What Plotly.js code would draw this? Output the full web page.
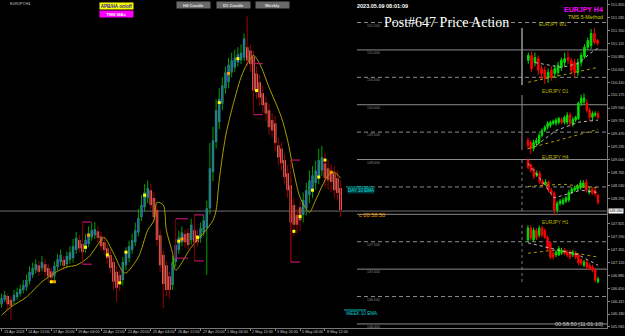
<!DOCTYPE html>
<html><head><meta charset="utf-8">
<script src="https://cdn.plot.ly/plotly-3.0.1.min.js"></script>
<style>html,body{margin:0;padding:0;background:#000;}#chart{width:625px;height:336px;}</style>
</head><body><div id="chart"></div>
<script>
// ---------- main EURJPY H4 (Heiken Ashi) ----------
const tickIdx = [0,8,16,24,32,40,48,56,64,72,80,88,96,104];
const tickText = ["13 Apr 2023","14 Apr 12:00","17 Apr 20:00","19 Apr 04:00","20 Apr 12:00","21 Apr 20:00","25 Apr 04:00","26 Apr 12:00","27 Apr 20:00","1 May 04:00","2 May 12:00","3 May 20:00","5 May 04:00","8 May 12:00"];
const haOpen = [146.36,146.44,146.51,146.44,146.42,146.49,146.55,146.62,146.67,146.78,
146.89,146.98,147.07,147.02,147.09,147.02,146.96,146.87,147.04,147.13,
147.17,147.09,147.17,147.20,147.35,147.53,147.46,147.37,147.46,147.58,
147.62,147.69,147.60,147.49,147.38,147.26,147.13,146.95,146.89,146.80,
147.07,147.20,147.35,147.49,147.67,147.95,148.13,148.30,148.44,148.30,
148.08,147.62,147.26,147.07,146.87,146.71,147.13,147.35,147.49,147.64,
147.66,147.53,147.71,147.62,147.57,147.67,147.75,148.11,148.77,149.32,
149.68,150.02,150.30,150.41,150.59,150.68,150.77,150.81,150.86,151.05,
150.99,150.88,150.57,150.41,150.21,150.04,149.90,149.72,149.66,149.26,
149.20,148.99,148.75,148.53,148.17,147.99,148.13,147.99,148.11,148.35,
148.44,148.57,148.68,148.80,148.93,148.84,148.77,148.75,148.66,148.48];
const haClose = [146.47,146.53,146.36,146.33,146.53,146.58,146.64,146.71,146.80,146.95,
147.02,147.09,146.95,147.13,146.95,146.87,146.84,147.06,147.18,147.26,
147.06,147.24,147.31,147.42,147.57,147.38,147.31,147.53,147.66,147.71,
147.73,147.57,147.42,147.35,147.20,147.02,146.77,146.66,146.73,147.13,
147.31,147.42,147.53,147.71,147.93,148.17,148.40,148.48,148.17,147.95,
147.53,147.07,146.73,146.62,146.62,147.13,147.44,147.58,147.67,147.49,
147.44,147.81,147.49,147.49,147.75,147.89,148.11,148.84,149.35,149.90,
150.11,150.35,150.59,150.73,150.81,150.86,150.92,150.95,151.21,150.81,
150.74,150.26,150.23,150.13,149.99,149.84,149.59,149.53,149.30,149.04,
148.93,148.68,148.44,147.85,147.81,147.81,147.89,148.26,148.44,148.62,
148.71,148.80,148.99,149.04,148.66,148.62,148.59,148.44,148.39,148.08];
const haHigh = [146.55,146.60,146.56,146.50,146.62,146.66,146.72,146.80,146.90,147.05,
147.12,147.18,147.15,147.24,147.18,147.10,147.02,147.14,147.28,147.36,
147.24,147.32,147.42,147.55,147.68,147.62,147.55,147.64,147.78,147.84,
147.86,147.78,147.68,147.58,147.46,147.35,147.20,147.05,146.98,147.22,
147.40,147.52,147.65,147.85,148.10,148.35,148.55,148.62,148.55,148.40,
148.15,147.72,147.35,147.15,146.95,147.25,147.55,147.70,147.78,147.72,
147.75,147.92,147.80,147.72,147.85,148.00,148.25,149.30,149.60,150.10,
150.30,150.50,150.70,150.85,150.95,151.00,151.05,151.10,151.30,151.61,
151.10,150.98,150.70,150.55,150.35,150.15,150.02,149.85,149.80,149.40,
149.32,149.10,148.90,148.65,148.30,148.10,148.25,148.40,148.58,148.80,
148.88,148.98,149.20,149.25,149.12,149.00,148.92,148.88,148.80,148.62];
const haLow = [146.30,146.40,146.25,146.07,146.36,146.44,146.50,146.56,146.60,146.72,
146.84,146.92,146.88,146.96,146.86,146.76,146.74,146.80,146.98,147.06,
146.98,147.02,147.10,147.12,147.28,147.30,147.22,147.30,147.40,147.52,
147.55,147.48,147.34,147.26,147.10,146.92,146.62,146.40,146.60,146.70,
146.98,147.12,147.28,147.42,147.60,147.88,148.05,148.20,148.10,147.85,
147.42,146.95,146.29,146.50,146.47,146.62,147.05,147.28,147.42,147.40,
147.36,147.45,147.40,147.42,147.48,147.60,146.90,148.00,148.60,149.20,
149.55,149.90,150.20,150.30,150.50,150.60,150.70,150.74,150.80,150.70,
150.60,150.05,150.10,149.98,149.85,149.70,149.45,149.40,149.15,148.90,
148.80,148.55,148.30,147.13,147.60,147.65,147.70,147.85,147.98,148.20,
148.30,148.45,148.55,148.70,148.50,148.45,148.40,148.30,148.25,147.95];
// smoothed moving average (read at selected bars)
const maIdx = [0,3,8,13,17,21,24,28,32,33,36,39,40,44,47,49,50,52,53,55,56,61,65,68,69,70,72,74,77,79,81,83,86,90,92,94,96,99,101,105,107,109];
const maVal = [146.16,146.31,146.49,146.77,146.93,147.04,147.07,147.22,147.53,147.58,147.29,146.95,146.93,147.22,147.71,147.89,148.22,148.17,147.71,147.29,146.98,147.40,147.66,147.89,148.08,148.62,149.41,149.90,150.50,150.75,150.90,150.75,150.32,149.77,149.35,148.77,148.31,148.04,148.26,148.71,148.77,148.66];
// signal dots
const yDotIdx = [16,27,34,38,40,46,57,63,70,76,82,94,96,100,102,104];
const yDotVal = [146.77,147.40,147.26,146.75,147.31,148.35,147.51,147.58,150.04,150.84,150.26,147.69,147.96,148.44,148.68,148.99];
const oDotIdx = [17,28,58,73,106];
const oDotVal = [146.77,147.62,147.55,150.57,148.77];
// TMS boxes
const boxStart = [26,56,62,81,93];
const boxEnd = [29,60,65,84,96];
const boxTop = [147.86,147.92,147.99,150.75,148.99];
const boxBottom = [147.09,147.20,147.15,149.82,147.13];
// round levels and price axis
const roundLevels = [146.0,146.5,147.0,147.5,148.0,148.5,149.0,149.5,150.0,150.5,151.0,151.5];
const hiddenLevelLabels = [148.0,148.5];
const priceTicks = [145.945,146.180,146.415,146.650,146.885,147.120,147.355,147.590,147.825,148.060,148.295,148.530,148.765,149.000,149.235,149.470,149.705,149.940,150.175,150.410,150.645,150.880,151.115,151.350,151.585,151.820];
const bidPrice = 148.06;
// ---------- mini charts ----------
const w1Open = [150.81,150.90,150.77,150.84,150.66,150.63,150.50,150.63,150.57,150.59,150.68,150.77,150.86,150.81,150.77,150.59,150.77,150.88,151.05,151.08,151.30,151.17];
const w1Close = [150.90,150.66,150.86,150.63,150.57,150.48,150.59,150.50,150.66,150.72,150.81,150.84,150.81,150.63,150.59,150.77,150.90,151.05,151.17,151.30,151.14,151.12];
const w1High = [150.95,150.97,150.95,150.90,150.72,150.70,150.66,150.70,150.72,150.78,150.86,150.95,150.97,150.86,150.84,150.84,150.95,151.10,151.22,151.38,151.40,151.20];
const w1Low = [150.75,150.60,150.70,150.55,150.45,150.38,150.40,150.44,150.50,150.52,150.62,150.70,150.74,150.55,150.50,150.52,150.70,150.84,151.00,151.02,151.10,151.08];
const w1FastIdx = [2,10,15,19,21], w1FastVal = [150.77,150.68,150.75,150.95,151.03];
const w1SlowIdx = [0,21], w1SlowVal = [150.41,150.68];
const d1Open = [149.35,149.31,149.20,149.30,149.31,149.44,149.53,149.59,149.62,149.66,149.66,149.68,149.73,149.68,149.68,149.81,149.64,149.72,149.75,150.03,150.05,150.03,149.90,149.77,149.81,149.84];
const d1Close = [149.26,149.20,149.31,149.35,149.44,149.53,149.59,149.66,149.68,149.70,149.72,149.75,149.68,149.77,149.81,149.66,149.73,149.77,150.03,150.12,150.12,149.90,149.77,149.84,149.84,149.77];
const d1High = [149.40,149.35,149.36,149.40,149.48,149.57,149.62,149.70,149.71,149.73,149.76,149.78,149.77,149.80,149.86,149.86,149.78,149.80,150.06,150.18,150.20,150.10,149.95,149.88,149.88,149.88];
const d1Low = [149.18,149.10,149.15,149.25,149.28,149.40,149.50,149.55,149.58,149.63,149.62,149.64,149.64,149.64,149.64,149.60,149.60,149.68,149.72,149.98,150.00,149.86,149.70,149.70,149.78,149.74];
const d1FastIdx = [3,10,18,25], d1FastVal = [149.26,149.53,149.68,149.72];
const d1SlowIdx = [0,25], d1SlowVal = [149.20,149.55];
const h4Open = [148.99,148.90,148.82,148.71,148.75,148.60,148.55,148.59,148.44,148.39,148.08,148.20,148.20,148.24,148.26,148.40,148.44,148.46,148.48,148.51,148.59,148.40,148.46,148.44,148.35];
const h4Close = [148.86,148.80,148.69,148.75,148.59,148.55,148.59,148.44,148.39,148.08,148.20,148.24,148.26,148.30,148.40,148.46,148.48,148.51,148.57,148.57,148.44,148.44,148.39,148.37,148.22];
const h4High = [149.02,148.94,148.86,148.80,148.79,148.64,148.64,148.62,148.48,148.42,148.24,148.28,148.30,148.33,148.44,148.50,148.52,148.55,148.62,148.62,148.64,148.48,148.50,148.48,148.38];
const h4Low = [148.82,148.76,148.64,148.68,148.55,148.50,148.52,148.40,148.34,147.98,148.03,148.16,148.17,148.20,148.22,148.37,148.41,148.43,148.45,148.48,148.40,148.36,148.35,148.33,148.18];
const h4FastIdx = [0,4,9,12,18,24], h4FastVal = [148.93,148.66,148.30,148.35,148.44,148.40];
const h4SlowIdx = [0,12,24], h4SlowVal = [148.51,148.55,148.48];
const h1Open = [147.53,147.75,147.53,147.71,147.62,147.75,147.71,147.58,147.48,147.29,147.26,147.26,147.29,147.35,147.31,147.31,147.26,147.29,147.26,147.17,147.07,147.13,147.07,147.04,146.98,146.77];
const h1Close = [147.75,147.57,147.71,147.57,147.75,147.62,147.58,147.38,147.22,147.22,147.31,147.38,147.35,147.29,147.26,147.22,147.31,147.22,147.11,147.11,147.13,147.04,147.02,146.98,146.80,146.82];
const h1High = [147.80,147.80,147.76,147.75,147.80,147.79,147.74,147.62,147.50,147.33,147.35,147.42,147.39,147.39,147.35,147.35,147.35,147.33,147.29,147.20,147.17,147.17,147.11,147.08,147.02,146.86];
const h1Low = [147.50,147.52,147.50,147.53,147.58,147.58,147.55,147.34,147.18,147.18,147.22,147.24,147.26,147.25,147.22,147.18,147.22,147.18,147.07,147.07,147.04,147.00,146.98,146.94,146.76,146.74];
const h1FastIdx = [0,10,18,25], h1FastVal = [147.48,147.35,147.26,147.07];
const h1SlowIdx = [0,10,25], h1SlowVal = [147.29,147.35,147.22];

// ---------- build ----------
const PW = 607, PH = 328;
const px = v => v / PW, py = v => 1 - v / PH;
const idx = haOpen.map((_, i) => i);
const up = idx.map(i => haClose[i] >= haOpen[i]);
const traces = [];
function wick(cond, color) {
  const xs = [], ys = [];
  idx.forEach(i => { if (up[i] === cond) { xs.push(i, i, null); ys.push(haLow[i], haHigh[i], null); } });
  return {type:'scatter', mode:'lines', x:xs, y:ys, line:{color, width:1}, hoverinfo:'skip', showlegend:false};
}
traces.push(wick(true, '#00a000'));
traces.push(wick(false, '#9a0000'));
traces.push({type:'bar', x:idx, base:idx.map(i => Math.min(haOpen[i], haClose[i])),
  y:idx.map(i => Math.abs(haClose[i] - haOpen[i])), width:0.8,
  marker:{color:idx.map(i => up[i] ? '#4169e1' : '#fa8072'), line:{width:0}}, hoverinfo:'skip', showlegend:false});
traces.push({type:'scatter', mode:'lines', x:maIdx, y:maVal, line:{color:'#a89f00', width:1, shape:'spline', smoothing:0.8}, hoverinfo:'skip', showlegend:false});
(function(){
  const hx = [], hy = [], vx = [], vy = [];
  boxStart.forEach((s, k) => {
    hx.push(s, boxEnd[k], null, s, boxEnd[k], null);
    hy.push(boxTop[k], boxTop[k], null, boxBottom[k], boxBottom[k], null);
    vx.push(s, s, null); vy.push(boxTop[k], boxBottom[k], null);
  });
  traces.push({type:'scatter', mode:'lines', x:vx, y:vy, line:{color:'#8b0000', width:1}, hoverinfo:'skip', showlegend:false});
  traces.push({type:'scatter', mode:'lines', x:hx, y:hy, line:{color:'#c0146e', width:1.2}, hoverinfo:'skip', showlegend:false});
})();
traces.push({type:'scatter', mode:'markers', x:yDotIdx, y:yDotVal, marker:{color:'#ffff00', size:3, symbol:'square'}, hoverinfo:'skip', showlegend:false});
traces.push({type:'scatter', mode:'markers', x:oDotIdx, y:oDotVal, marker:{color:'#ff9900', size:3, symbol:'square'}, hoverinfo:'skip', showlegend:false});

function mini(axis, o, h, l, c, fi, fv, si, sv) {
  traces.push({type:'scatter', mode:'lines', xaxis:axis, yaxis:'y', x:si, y:sv, line:{color:'#a89f00', width:1, dash:'dot'}, hoverinfo:'skip', showlegend:false});
  traces.push({type:'scatter', mode:'lines', xaxis:axis, yaxis:'y', x:fi, y:fv, line:{color:'#bdbdbd', width:1, dash:'dot'}, hoverinfo:'skip', showlegend:false});
  traces.push({type:'candlestick', xaxis:axis, yaxis:'y', x:o.map((_, i) => i), open:o, high:h, low:l, close:c,
    increasing:{line:{color:'#00e000', width:1}, fillcolor:'#00e000'},
    decreasing:{line:{color:'#ff0000', width:1}, fillcolor:'#ff0000'},
    whiskerwidth:0, hoverinfo:'skip', showlegend:false});
}
mini('x2', w1Open, w1High, w1Low, w1Close, w1FastIdx, w1FastVal, w1SlowIdx, w1SlowVal);
mini('x3', d1Open, d1High, d1Low, d1Close, d1FastIdx, d1FastVal, d1SlowIdx, d1SlowVal);
mini('x4', h4Open, h4High, h4Low, h4Close, h4FastIdx, h4FastVal, h4SlowIdx, h4SlowVal);
mini('x5', h1Open, h1High, h1Low, h1Close, h1FastIdx, h1FastVal, h1SlowIdx, h1SlowVal);

const F = 'Liberation Sans, Arial, sans-serif';
const shapes = [];
roundLevels.forEach(v => {
  const whole = Math.abs(v - Math.round(v)) < 1e-6;
  shapes.push({type:'line', xref:'paper', yref:'y', x0:px(357), x1:1, y0:v, y1:v, layer:'below',
    line:{color:'#8c8c8c', width:1, dash: whole ? 'solid' : '4px,3px'}});
});
shapes.push({type:'line', xref:'paper', yref:'y', x0:0, x1:1, y0:bidPrice, y1:bidPrice, layer:'below', line:{color:'#6e6e6e', width:1}});
shapes.push({type:'line', xref:'paper', yref:'paper', x0:px(522), x1:px(522), y0:py(28), y1:py(85), line:{color:'#9a9a9a', width:1.5}});
shapes.push({type:'line', xref:'paper', yref:'paper', x0:px(522), x1:px(522), y0:py(95), y1:py(150), line:{color:'#7a7a7a', width:1.2}});
shapes.push({type:'line', xref:'paper', yref:'paper', x0:px(522), x1:px(522), y0:py(160), y1:py(212), line:{color:'#7a7a7a', width:1, dash:'dot'}});
shapes.push({type:'line', xref:'paper', yref:'paper', x0:px(522), x1:px(522), y0:py(225), y1:py(285), line:{color:'#7a7a7a', width:1, dash:'dot'}});
shapes.push({type:'line', xref:'paper', yref:'paper', x0:px(346), x1:px(373), y0:py(187), y1:py(187), line:{color:'#00b8b8', width:1}});
shapes.push({type:'line', xref:'paper', yref:'paper', x0:px(344), x1:px(366), y0:py(310), y1:py(310), line:{color:'#00b8b8', width:1}});

const anns = [];
function A(text, x, y, o) {
  o = o || {};
  const a = {xref:'paper', yref:'paper', x:px(x), y:py(y), text, showarrow:false,
    xanchor:o.xa || 'left', yanchor:'middle',
    font:{family:o.fam || F, size:o.size || 5, color:o.color || '#c8c8c8'}};
  ['bgcolor','bordercolor','borderwidth','borderpad','width','height'].forEach(k => { if (o[k] !== undefined) a[k] = o[k]; });
  anns.push(a);
}
A('EURJPY,H4', 8, 4, {size:3.8, color:'#c8c8c8'});
A('<b>APB/HA on/off</b>', 116, 6.5, {xa:'center', size:4.5, color:'#1a1aa0', bgcolor:'#ffff00', width:33, height:6, borderpad:0});
A('<b>TMS MAs</b>', 116, 14.5, {xa:'center', size:4.3, color:'#ffffff', bgcolor:'#ff00ff', width:33, height:6, borderpad:0});
A('<b>H4 Candle</b>', 194, 5.5, {xa:'center', size:4.2, color:'#e0e0e0', bgcolor:'#6a6a6a', width:33, height:6, borderpad:0});
A('<b>D1 Candle</b>', 233, 5.5, {xa:'center', size:4.2, color:'#e0e0e0', bgcolor:'#6a6a6a', width:33, height:6, borderpad:0});
A('<b>Weekly</b>', 272, 5.5, {xa:'center', size:4.2, color:'#e0e0e0', bgcolor:'#6a6a6a', width:33, height:6, borderpad:0});
A('<b>2023.05.09 08:01:09</b>', 355, 6, {size:5.5, color:'#ffffff'});
A('Post#647 Price Action', 446, 22, {xa:'center', size:14, color:'#ffffff', fam:'Liberation Serif, Times New Roman, serif'});
A('<b>EURJPY H4</b>', 605, 9, {xa:'right', size:7, color:'#ff00ff'});
A('TMS 5-Method', 605, 17, {xa:'right', size:5.3, color:'#d4d400'});
A('EURJPY W1', 553, 25, {xa:'center', size:4.8, color:'#b8b800'});
A('EURJPY D1', 555, 91, {xa:'center', size:4.8, color:'#b8b800'});
A('EURJPY H4', 555, 157, {xa:'center', size:4.8, color:'#b8b800'});
A('EURJPY H1', 555, 222, {xa:'center', size:4.8, color:'#b8b800'});
roundLevels.filter(v => hiddenLevelLabels.indexOf(v) < 0).forEach(v => {
  const yy = 5 + (151.82 - v) * 54.8;
  A(v.toFixed(3), 365, yy + 3, {size:3.5, color:'#8c8c8c'});
});
A('DAY 10 EMA', 347, 190, {size:4.5, color:'#00e0e0', bgcolor:'#003a3a', borderpad:0});
A('c 00:58:50', 357, 215, {size:5.6, color:'#ffa500'});
A('WEEK 10 EMA', 344, 313, {size:4.6, color:'#00d0d0'});
A('00:58:50 [11:01:10]', 605, 324, {xa:'right', size:5.6, color:'#c8c8c8'});
A(bidPrice.toFixed(3), 616, 211, {xa:'center', size:3.8, color:'#000000', bgcolor:'#ffffff', borderpad:0});
tickIdx.forEach((t, k) => {
  anns.push({xref:'x', yref:'paper', x:t, y:py(331.5), text:tickText[k], showarrow:false, xanchor:'left', yanchor:'middle',
    xshift:0, font:{family:F, size:3.8, color:'#c8c8c8'}});
});

const shownTicks = priceTicks.filter(v => Math.abs(v - bidPrice) > 0.001);
const miniDom = [px(526), px(600)];
function miniAxis(n) { return {domain:miniDom, anchor:'y', range:[-0.7, n - 0.3], visible:false, showgrid:false, zeroline:false, rangeslider:{visible:false}}; }
const layout = {
  width:625, height:336, paper_bgcolor:'#000', plot_bgcolor:'rgba(0,0,0,0)',
  margin:{l:0, r:18, t:0, b:8}, showlegend:false, barmode:'overlay', hovermode:false,
  xaxis:{range:[-0.5, 194.7], tickvals:tickIdx, showticklabels:false, ticks:'outside', ticklen:2, tickcolor:'#888',
    showgrid:false, zeroline:false, showline:true, mirror:true, linecolor:'#777', rangeslider:{visible:false}},
  yaxis:{range:[145.926, 151.911], side:'right', tickvals:shownTicks, ticktext:shownTicks.map(v => v.toFixed(3)),
    ticks:'outside', ticklen:2, tickcolor:'#888', tickfont:{family:F, size:3.8, color:'#c8c8c8'},
    showgrid:false, zeroline:false, showline:true, mirror:true, linecolor:'#777'},
  xaxis2:miniAxis(w1Open.length), xaxis3:miniAxis(d1Open.length),
  xaxis4:miniAxis(h4Open.length), xaxis5:miniAxis(h1Open.length),
  shapes, annotations:anns
};
Plotly.newPlot('chart', traces, layout, {staticPlot:true, displayModeBar:false});
</script></body></html>
